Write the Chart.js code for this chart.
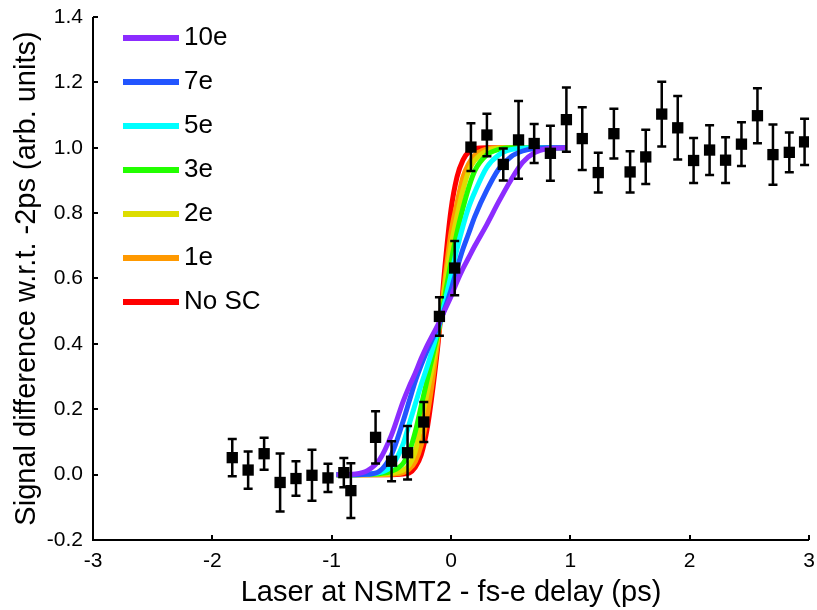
<!DOCTYPE html>
<html>
<head>
<meta charset="utf-8">
<script src="https://cdn.jsdelivr.net/npm/chart.js@4.4.1/dist/chart.umd.min.js"></script>
<style>
  html, body { margin: 0; padding: 0; background: #fff; }
  #wrap { width: 817px; height: 610px; }
</style>
</head>
<body>
<div id="wrap"><canvas id="c" width="817" height="610"></canvas></div>
<script>
// ---- measured data (delay in ps, normalised signal) ----
const delay = [-1.833,-1.700,-1.566,-1.432,-1.299,-1.165,-1.031,-0.898,-0.839,-0.632,-0.498,-0.364,-0.228,-0.097,0.031,0.167,0.301,0.438,0.566,0.697,0.833,0.967,1.100,1.234,1.365,1.501,1.632,1.766,1.900,2.033,2.167,2.301,2.434,2.568,2.698,2.835,2.963];
const signal = [0.052,0.014,0.064,-0.024,-0.012,-0.002,-0.010,0.006,-0.049,0.114,0.041,0.067,0.161,0.484,0.632,1.002,1.039,0.949,1.024,1.013,0.983,1.086,1.028,0.924,1.043,0.926,0.972,1.103,1.061,0.961,0.993,0.962,1.011,1.098,0.979,0.986,1.018];
const signalErr = [0.057,0.057,0.049,0.089,0.053,0.078,0.043,0.045,0.084,0.080,0.061,0.082,0.061,0.059,0.083,0.073,0.065,0.049,0.119,0.060,0.084,0.098,0.096,0.061,0.076,0.063,0.083,0.099,0.097,0.069,0.076,0.070,0.067,0.084,0.092,0.061,0.071];

// ---- simulated curves (space-charge levels) ----
const curveX = [-0.96,-0.8,-0.7,-0.6,-0.5,-0.4,-0.35,-0.3,-0.25,-0.2,-0.15,-0.1,-0.05,0,0.05,0.1,0.15,0.2,0.3,0.4,0.5,0.6,0.7,0.8,0.96];
const curve10e = [0,0.002,0.012,0.045,0.12,0.225,0.27,0.31,0.355,0.395,0.43,0.465,0.505,0.545,0.59,0.63,0.665,0.7,0.765,0.835,0.9,0.955,0.985,0.997,1];
const curve7e  = [0,0,0.001,0.01,0.06,0.165,0.225,0.285,0.335,0.38,0.42,0.46,0.51,0.565,0.63,0.69,0.74,0.79,0.87,0.935,0.972,0.99,0.998,1,1];
const curve5e  = [0,0,0.002,0.006,0.025,0.095,0.155,0.215,0.275,0.33,0.39,0.455,0.53,0.61,0.69,0.76,0.82,0.865,0.94,0.978,0.994,0.999,1,1,1];
const curve3e  = [0,0,0.001,0.003,0.01,0.035,0.07,0.13,0.21,0.29,0.37,0.45,0.55,0.65,0.74,0.815,0.88,0.93,0.978,0.995,1,1,1,1,1];
const curve2e  = [0,0,0,0.001,0.004,0.014,0.03,0.07,0.16,0.25,0.34,0.45,0.58,0.7,0.79,0.87,0.93,0.962,0.99,0.999,1,1,1,1,1];
const curve1e  = [0,0,0,0,0.001,0.006,0.017,0.04,0.09,0.18,0.3,0.44,0.6,0.74,0.83,0.91,0.952,0.978,0.996,1,1,1,1,1,1];
const curveNoSC = [0,0,0,0,0,0.002,0.005,0.022,0.06,0.14,0.27,0.43,0.64,0.81,0.91,0.962,0.988,0.997,1,1,1,1,1,1,1];

const curveLabels = ['10e','7e','5e','3e','2e','1e','No SC'];
const curveColors = ['#8c2cff','#2255ff','#00ffff','#22ff00','#dddd00','#ff9900','#ff0000'];
const curveSeries = [curve10e, curve7e, curve5e, curve3e, curve2e, curve1e, curveNoSC];

// ---- axes ----
const xTickValues = [-3,-2,-1,0,1,2,3];
const xTickLabels = ['-3','-2','-1','0','1','2','3'];
const yTickValues = [-0.2,0,0.2,0.4,0.6,0.8,1.0,1.2,1.4];
const yTickLabels = ['-0.2','0.0','0.2','0.4','0.6','0.8','1.0','1.2','1.4'];
const xTitle = 'Laser at NSMT2 - fs-e delay (ps)';
const yTitle = 'Signal difference w.r.t. -2ps (arb. units)';

const FONT = "'Liberation Sans', Arial, sans-serif";
Chart.defaults.font.family = FONT;
Chart.defaults.color = '#000';

const datasets = curveSeries.map((ys, i) => ({
  type: 'scatter',
  label: curveLabels[i],
  data: curveX.map((x, j) => ({x: x, y: ys[j]})),
  showLine: true,
  borderColor: curveColors[i],
  backgroundColor: curveColors[i],
  borderWidth: 5,
  pointRadius: 0,
  cubicInterpolationMode: 'monotone',
  fill: false,
  order: i + 1
}));
datasets.push({
  type: 'scatter',
  label: 'data',
  data: delay.map((x, i) => ({x: x, y: signal[i]})),
  showLine: false,
  pointStyle: 'rect',
  pointRadius: 8,
  backgroundColor: '#000',
  borderColor: '#000',
  borderWidth: 0,
  order: 0,
  isData: true
});
const dataIndex = datasets.length - 1;

const errorBars = {
  id: 'errorBars',
  beforeDatasetDraw(chart, args) {
    if (args.index !== dataIndex) return;
    const {ctx, scales: {x, y}} = chart;
    ctx.save();
    ctx.strokeStyle = '#000';
    ctx.lineWidth = 2.5;
    const cap = 4.5;
    delay.forEach((d, i) => {
      const px = x.getPixelForValue(d);
      const top = y.getPixelForValue(signal[i] + signalErr[i]);
      const bot = y.getPixelForValue(signal[i] - signalErr[i]);
      ctx.beginPath();
      ctx.moveTo(px, top); ctx.lineTo(px, bot);
      ctx.moveTo(px - cap, top); ctx.lineTo(px + cap, top);
      ctx.moveTo(px - cap, bot); ctx.lineTo(px + cap, bot);
      ctx.stroke();
    });
    ctx.restore();
  }
};

const axesPlugin = {
  id: 'axesPlugin',
  afterDraw(chart) {
    const {ctx, chartArea: a, scales: {x, y}} = chart;
    ctx.save();
    ctx.strokeStyle = '#000';
    ctx.lineWidth = 2;
    ctx.beginPath();
    ctx.moveTo(a.left, a.top); ctx.lineTo(a.left, a.bottom); ctx.lineTo(a.right, a.bottom);
    ctx.stroke();
    ctx.beginPath();
    xTickValues.forEach(v => {
      const px = Math.round(x.getPixelForValue(v));
      ctx.moveTo(px, a.bottom); ctx.lineTo(px, a.bottom - 5);
    });
    yTickValues.forEach(v => {
      const py = Math.round(y.getPixelForValue(v));
      ctx.moveTo(a.left, py); ctx.lineTo(a.left + 5, py);
    });
    ctx.stroke();
    ctx.restore();
  }
};

const legendPlugin = {
  id: 'insideLegend',
  afterDraw(chart) {
    const {ctx, chartArea: a} = chart;
    ctx.save();
    ctx.font = '26px ' + FONT;
    ctx.textBaseline = 'middle';
    ctx.textAlign = 'left';
    chart.data.datasets.forEach((ds, i) => {
      if (ds.isData) return;
      const yy = a.top + 21 + i * 44;
      ctx.strokeStyle = ds.borderColor;
      ctx.lineWidth = 6;
      ctx.beginPath();
      ctx.moveTo(a.left + 30, yy); ctx.lineTo(a.left + 86, yy);
      ctx.stroke();
      ctx.fillStyle = '#000';
      ctx.fillText(ds.label, a.left + 91, yy);
    });
    ctx.restore();
  }
};

new Chart(document.getElementById('c'), {
  type: 'scatter',
  data: { datasets: datasets },
  options: {
    responsive: false,
    animation: false,
    events: [],
    layout: { padding: { left: 0, right: 5, top: 17, bottom: 0 } },
    plugins: { legend: { display: false }, tooltip: { enabled: false } },
    scales: {
      x: {
        type: 'linear', min: -3, max: 3,
        grid: { display: false, drawTicks: false },
        border: { display: false },
        afterBuildTicks: s => { s.ticks = xTickValues.map(v => ({value: v})); },
        afterFit: s => { s.height = 70; s.paddingLeft = 0; s.paddingRight = 0; },
        ticks: {
          padding: 9, font: { size: 21 }, color: '#000',
          callback: (v) => xTickLabels[xTickValues.indexOf(v)]
        },
        title: { display: true, text: xTitle, font: { size: 29 }, color: '#000', padding: { top: 0, bottom: 0 } }
      },
      y: {
        type: 'linear', min: -0.2, max: 1.4,
        grid: { display: false, drawTicks: false },
        border: { display: false },
        afterBuildTicks: s => { s.ticks = yTickValues.map(v => ({value: v})); },
        afterFit: s => { s.width = 93; s.paddingTop = 0; s.paddingBottom = 0; },
        ticks: {
          padding: 10, font: { size: 21 }, color: '#000',
          callback: (v) => { const k = yTickValues.findIndex(t => Math.abs(t - v) < 1e-9); return yTickLabels[k]; }
        },
        title: { display: true, text: yTitle, font: { size: 29 }, color: '#000', padding: { top: 10, bottom: 0 } }
      }
    }
  },
  plugins: [errorBars, axesPlugin, legendPlugin]
});
</script>
</body>
</html>
